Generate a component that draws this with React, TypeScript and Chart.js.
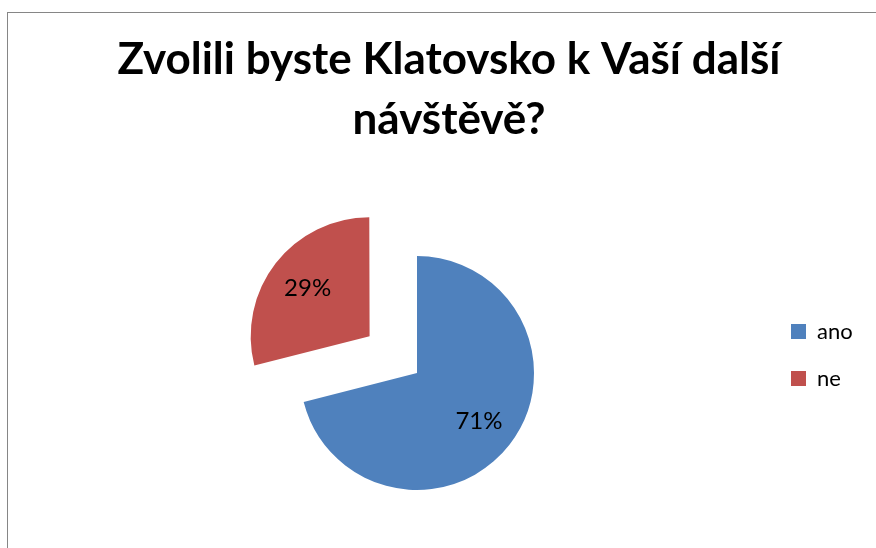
import React, { useEffect, useRef } from 'react';
import { Chart, registerables } from 'chart.js';

Chart.register(...registerables);

const TITLE_LINES = ['Zvolili byste Klatovsko k Vaší další', 'návštěvě?'];
const CATEGORIES = ['ano', 'ne'];
const VALUES = [71, 29];
const COLORS = ['#4F81BD', '#C0504D'];
const EXPLODE = [0, 240]; // Chart.js 4 draws arc offset / 4 -> 60px
const FONT = 'Lato, "Open Sans", sans-serif';

const sliceLabels = {
  id: 'sliceLabels',
  afterDatasetsDraw(chart: any) {
    const ctx = chart.ctx;
    const meta = chart.getDatasetMeta(0);
    const data = chart.data.datasets[0].data as number[];
    const total = data.reduce((a, b) => a + b, 0);
    ctx.save();
    ctx.font = `24px ${FONT}`;
    ctx.fillStyle = '#000';
    ctx.textAlign = 'center';
    ctx.textBaseline = 'middle';
    meta.data.forEach((arc: any, i: number) => {
      const p = arc.getProps(['x', 'y', 'startAngle', 'endAngle', 'outerRadius'], true);
      const mid = (p.startAngle + p.endAngle) / 2;
      const off = (arc.options.offset || 0) / 4;
      const r = off + p.outerRadius * 0.67;
      const pct = Math.round((data[i] / total) * 100) + '%';
      ctx.fillText(pct, p.x + Math.cos(mid) * r, p.y + Math.sin(mid) * r);
    });
    ctx.restore();
  },
};

export default function App() {
  const ref = useRef<HTMLCanvasElement>(null);
  useEffect(() => {
    if (!ref.current) return;
    const chart = new Chart(ref.current, {
      type: 'pie',
      data: {
        labels: CATEGORIES,
        datasets: [
          {
            data: VALUES,
            backgroundColor: COLORS,
            borderWidth: 0,
            offset: EXPLODE,
            hoverOffset: 0,
          } as any,
        ],
      },
      options: {
        animation: false,
        responsive: false,
        radius: 117,
        events: [],
        layout: { padding: { left: 43, right: 21, top: 0, bottom: 0 } },
        plugins: {
          title: {
            display: true,
            text: TITLE_LINES,
            color: '#000',
            font: { family: FONT, size: 44, weight: 'bold', lineHeight: 60 / 44 },
            padding: { top: 30, bottom: 48 },
          },
          legend: {
            position: 'right',
            align: 'start',
            maxWidth: 64,
            title: {
              display: true,
              text: '',
              padding: { top: 310.5, bottom: 0 },
              font: { size: 10, lineHeight: 1 },
            },
            labels: {
              boxWidth: 15,
              boxHeight: 15,
              padding: 0,
              color: '#000',
              font: { family: FONT, size: 22, lineHeight: 47 / 22 },
              generateLabels: (c: any) => {
                const ds = c.data.datasets[0];
                return (c.data.labels as string[]).map((label, i) => ({
                  text: [label],
                  fillStyle: ds.backgroundColor[i],
                  strokeStyle: ds.backgroundColor[i],
                  lineWidth: 0,
                  hidden: false,
                  index: i,
                  fontColor: '#000',
                }));
              },
            },
          },
          tooltip: { enabled: false },
        },
      } as any,
      plugins: [sliceLabels],
    });
    return () => chart.destroy();
  }, []);

  return (
    <div style={{ position: 'absolute', left: 0, top: 0, width: 876, height: 548, background: '#fff', overflow: 'hidden' }}>
      <div
        style={{
          position: 'absolute',
          left: 7,
          top: 12,
          width: 900,
          height: 600,
          borderLeft: '1px solid #868686',
          borderTop: '1px solid #868686',
        }}
      />
      <canvas ref={ref} width={876} height={548} style={{ position: 'absolute', left: 0, top: 0 }} />
    </div>
  );
}
